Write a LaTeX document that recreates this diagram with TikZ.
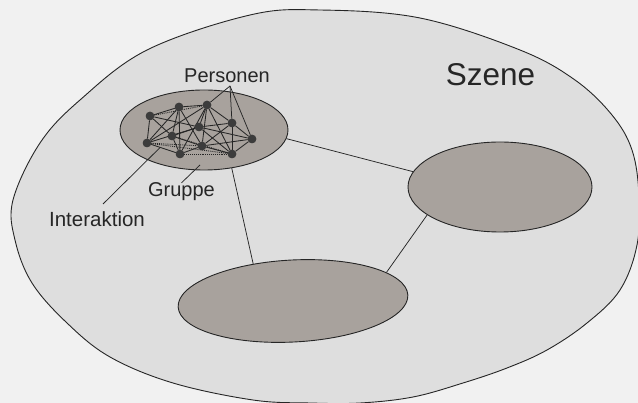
\documentclass[tikz,border=0pt]{standalone}
\usepackage{fontspec}
\setmainfont{Liberation Sans}
\usetikzlibrary{shapes.geometric,calc}
\definecolor{paper}{HTML}{F1F1F1}
\definecolor{scenefill}{HTML}{DEDEDE}
\definecolor{groupfill}{HTML}{A8A29D}
\definecolor{ink}{HTML}{262626}
\begin{document}
\begin{tikzpicture}[x=1pt,y=-1pt,
  group/.style={ellipse, draw=ink, line width=0.9pt, fill=groupfill, inner sep=0pt},
  person/.style={circle, fill=ink!90, inner sep=0pt, minimum size=8.5pt},
  tie/.style={draw=ink, line width=0.85pt},
  weak/.style={draw=ink, line width=0.9pt, densely dotted},
  link/.style={draw=ink, line width=0.75pt},
  label/.style={text=ink, font=\fontsize{20}{24}\selectfont, inner sep=0pt, anchor=base}]

% page
\fill[paper] (0,0) rectangle (638,403);
\useasboundingbox (0,0) rectangle (638,403);

% the scene
\draw[ink, line width=0.9pt, fill=scenefill] plot[smooth cycle, tension=0.6] coordinates {
  (320,10) (420,18) (520,50) (575,80) (612,115) (632,150) (639,195) (637,245)
  (620,290) (587,323) (547,350) (507,368) (463,383) (413,397) (360,403) (310,403)
  (253,400) (173,383) (110,357) (67,323) (32,283) (15,240) (13,200) (40,143)
  (80,100) (147,50) (250,15)};

% groups
\node[group, minimum width=168pt, minimum height=80pt] (g) at (204,130) {};
\node[group, minimum width=184pt, minimum height=90pt] (r) at (500,187) {};
\node[group, minimum width=230pt, minimum height=82pt, rotate=3] (b) at (293,301) {};

% links between groups
\draw[link] (g.-6) -- (r.170);
\draw[link] (g.-54) -- (b.134);
\draw[link] (r.201) -- (b.14);

% persons
\node[person] (n1)  at (150,116) {};
\node[person] (n2)  at (179,107) {};
\node[person] (n3)  at (207,105) {};
\node[person] (n4)  at (199,127) {};
\node[person] (n5)  at (232,123) {};
\node[person] (n6)  at (172,136) {};
\node[person] (n7)  at (147,143) {};
\node[person] (n8)  at (180,154) {};
\node[person] (n9)  at (202,146) {};
\node[person] (n10) at (232,154) {};
\node[person] (n11) at (252,139) {};

% interactions
\foreach \a/\b in {n1/n2, n1/n7, n1/n6, n1/n4, n2/n3, n2/n6, n2/n8, n2/n7, n2/n9,
                   n3/n4, n3/n9, n3/n5, n3/n10, n3/n8, n3/n7, n4/n5, n4/n6, n4/n10,
                   n4/n11, n4/n7, n5/n11, n5/n10, n5/n9, n6/n8, n6/n9, n7/n8, n8/n9,
                   n9/n11, n10/n11, n9/n10}
  \draw[tie] (\a) -- (\b);
\foreach \a/\b in {n7/n9, n7/n10, n8/n10, n6/n10, n1/n3}
  \draw[weak] (\a) -- (\b);
\foreach \p in {n1,n2,n3,n4,n5,n6,n7,n8,n9,n10,n11}
  \fill[ink!90] (\p) circle (4.25pt);

% labels
\node[label] (pers) at (227,83) {Personen};
\node[label] (grp) at (181.5,197) {Gruppe};
\node[label, font=\fontsize{20.5}{24}\selectfont] (inter) at (97,227) {Interaktion};
\node[label, font=\fontsize{31.5}{36}\selectfont] (scene) at (490.5,86) {Szene};

% leader lines
\coordinate (papex) at (230,86);
\draw[link] (papex) -- (n3);
\draw[link] (papex) -- (n5);
\draw[link] (papex) -- (n11);
\coordinate (gtip) at (200,165);
\draw[link] (grp.north) -- (gtip);
\coordinate (ilead) at (103,204);
\draw[link] (ilead) -- ($(n7)!0.4!(n8)$);
\end{tikzpicture}
\end{document}
